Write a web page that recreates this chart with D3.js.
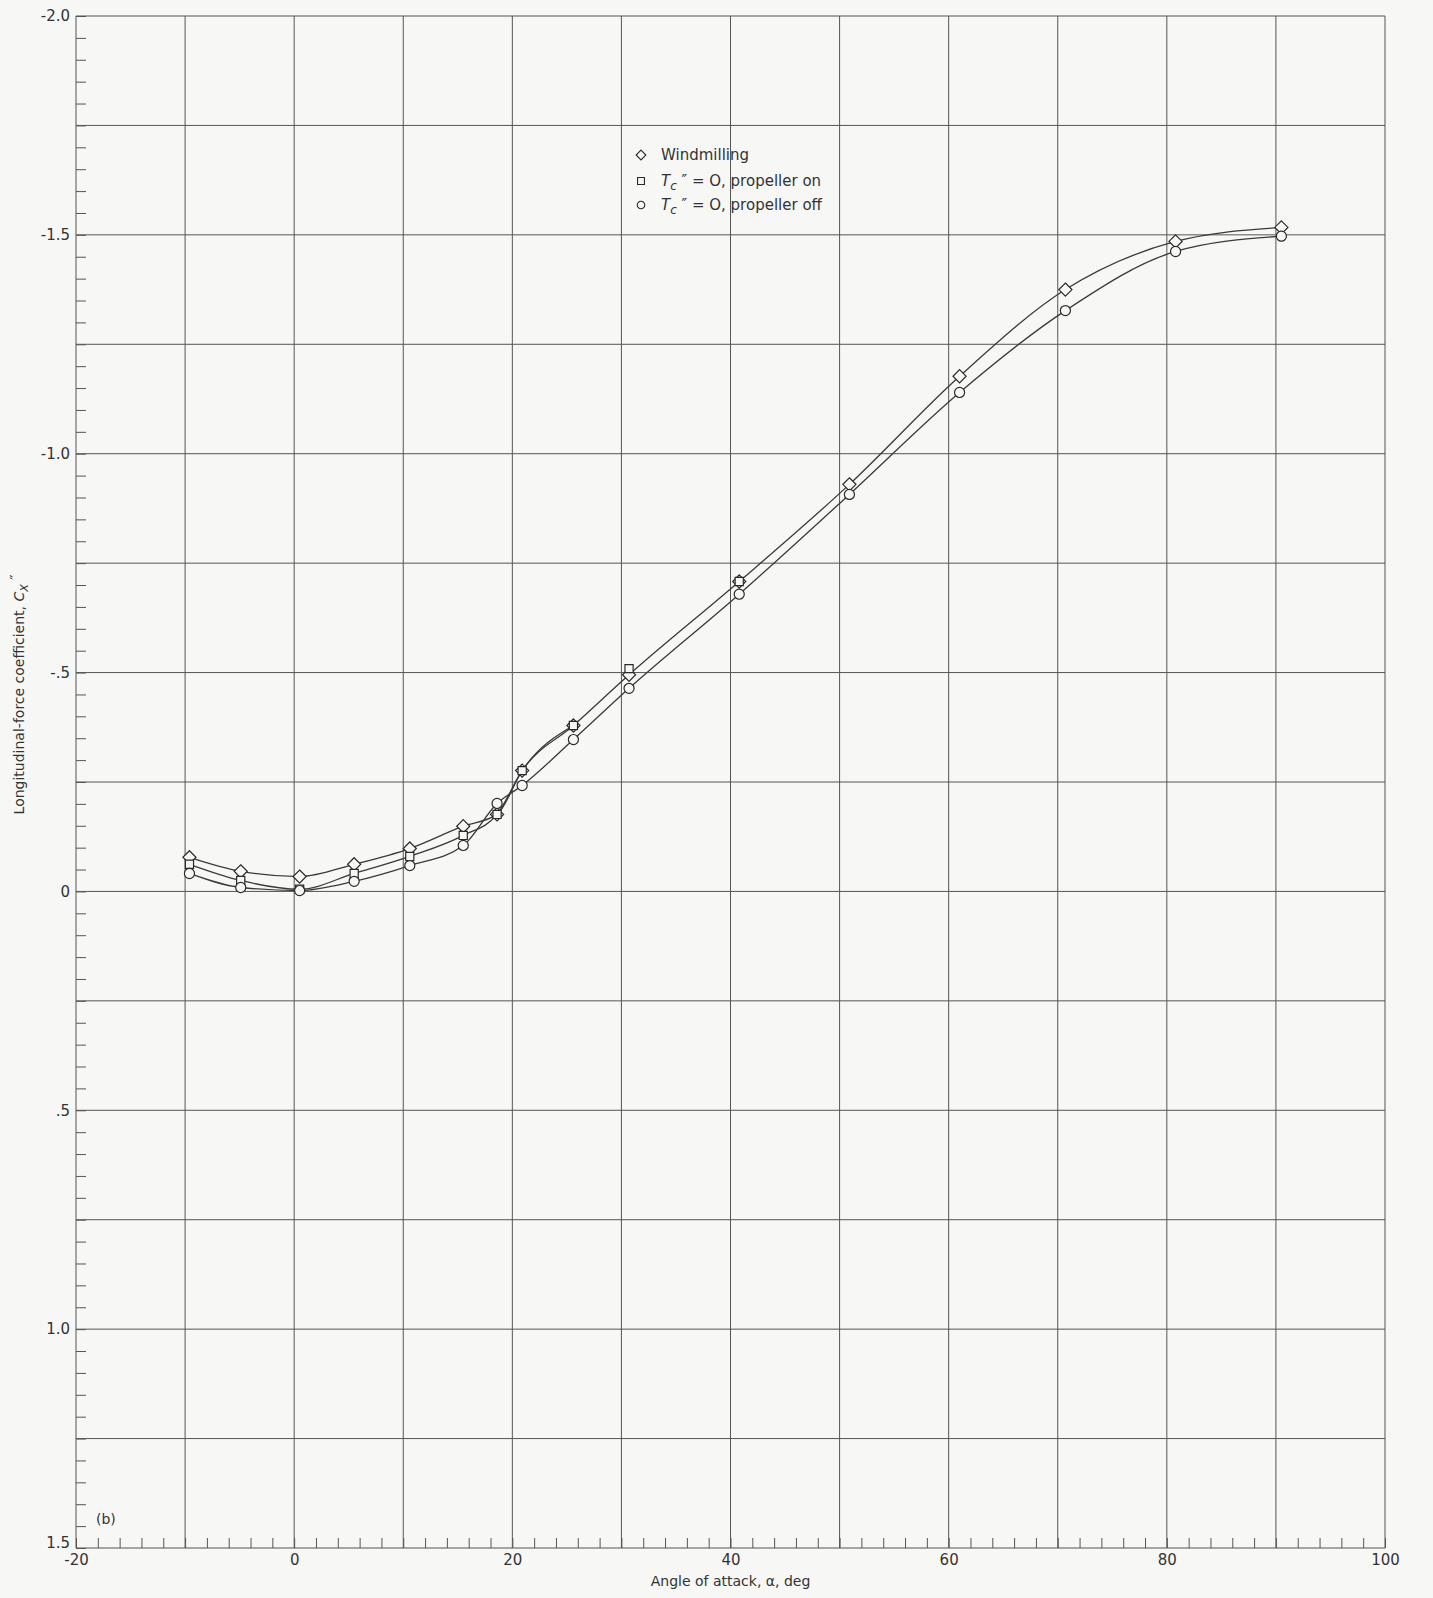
<!DOCTYPE html>
<html>
<head>
<meta charset="utf-8">
<script src="https://cdn.jsdelivr.net/npm/d3@7"></script>
<style>
  body { margin: 0; background: #f7f7f6; }
  svg { display: block; }
  text { font-family: "DejaVu Sans", sans-serif; fill: #333; }
  .axis path { display: none; }
  .axis line { stroke: #555; stroke-width: 1; }
</style>
</head>
<body>
<svg id="chart"></svg>
<script>
// angle of attack readings (deg) - points sit a little right of grid lines
var alphaAll = [-9.6, -4.9, 0.5, 5.5, 10.6, 15.5, 18.6, 20.9, 25.6, 30.7, 40.8, 50.9, 61.0, 70.7, 80.8, 90.5];
var alphaPropOn = [-9.6, -4.9, 0.5, 5.5, 10.6, 15.5, 18.6, 20.9, 25.6, 30.7, 40.8];

// C_X'' values
var windmilling = [-0.078, -0.046, -0.034, -0.062, -0.098, -0.149, -0.176, -0.276, -0.379, -0.495, -0.708, -0.930, -1.177, -1.375, -1.485, -1.517];
var propOn = [-0.062, -0.025, -0.005, -0.041, -0.080, -0.128, -0.176, -0.276, -0.379, -0.509, -0.708];
var propOff = [-0.041, -0.009, -0.002, -0.023, -0.059, -0.105, -0.201, -0.242, -0.347, -0.464, -0.679, -0.907, -1.140, -1.327, -1.462, -1.497];

var xLabels = [-20, 0, 20, 40, 60, 80, 100];
var yLabels = [-2.0, -1.5, -1.0, -0.5, 0, 0.5, 1.0, 1.5];
var yLabelText = ["-2.0", "-1.5", "-1.0", "-.5", "0", ".5", "1.0", "1.5"];

var W = 1433, H = 1598;
var margin = {top: 16, right: 48, bottom: 50, left: 76};

var svg = d3.select("#chart").attr("width", W).attr("height", H);

var x = d3.scaleLinear().domain([-20, 100]).range([margin.left, W - margin.right]);
var y = d3.scaleLinear().domain([-2.0, 1.5]).range([margin.top, H - margin.bottom]);

// grid
var g = svg.append("g");
g.selectAll(".vgrid")
  .data(d3.range(-20, 101, 10))
  .enter().append("line")
    .attr("x1", function(d) { return x(d); })
    .attr("x2", function(d) { return x(d); })
    .attr("y1", y(-2.0)).attr("y2", y(1.5))
    .attr("stroke", "#555").attr("stroke-width", 1);
g.selectAll(".hgrid")
  .data(d3.range(0, 15).map(function(i) { return -2.0 + i * 0.25; }))
  .enter().append("line")
    .attr("y1", function(d) { return y(d); })
    .attr("y2", function(d) { return y(d); })
    .attr("x1", x(-20)).attr("x2", x(100))
    .attr("stroke", "#555").attr("stroke-width", 1);

// minor ticks, drawn inward
svg.append("g")
  .attr("class", "axis")
  .attr("transform", "translate(0," + y(1.5) + ")")
  .call(d3.axisBottom(x).tickValues(d3.range(-20, 101, 2)).tickSize(-10).tickFormat(""));
svg.append("g")
  .attr("class", "axis")
  .attr("transform", "translate(" + x(-20) + ",0)")
  .call(d3.axisLeft(y).tickValues(d3.range(0, 71).map(function(i) { return -2.0 + i * 0.05; })).tickSize(-10).tickFormat(""));

// tick labels
var xAx = svg.append("g")
  .attr("class", "axis")
  .attr("transform", "translate(0," + y(1.5) + ")")
  .call(d3.axisBottom(x).tickValues(xLabels).tickSize(0).tickPadding(6).tickFormat(function(d) { return d; }));
xAx.selectAll("text").style("font-size", "15px").attr("fill", "#333");

var yAx = svg.append("g")
  .attr("class", "axis")
  .attr("transform", "translate(" + x(-20) + ",0)")
  .call(d3.axisLeft(y).tickValues(yLabels).tickSize(0).tickPadding(6)
    .tickFormat(function(d, i) { return yLabelText[i]; }));
yAx.selectAll("text").style("font-size", "15px").attr("fill", "#333");
yAx.selectAll(".tick").filter(function(d) { return d === 1.5; }).select("text").attr("dy", "-0.05em");

// axis titles
svg.append("text")
  .attr("x", (x(-20) + x(100)) / 2)
  .attr("y", H - 12)
  .attr("text-anchor", "middle")
  .style("font-size", "14px")
  .text("Angle of attack, \u03b1, deg");

var yt = svg.append("text")
  .attr("transform", "translate(24," + y(-0.45) + ") rotate(-90)")
  .attr("text-anchor", "middle")
  .style("font-size", "14px");
yt.append("tspan").text("Longitudinal-force coefficient, ");
yt.append("tspan").style("font-style", "italic").text("C");
yt.append("tspan").style("font-style", "italic").style("font-size", "11px").attr("dy", 4).text("X");
yt.append("tspan").attr("dy", -8).text(" \u2033");

svg.append("text")
  .attr("x", 96).attr("y", y(1.5) - 24)
  .style("font-size", "14px")
  .text("(b)");

// curves
var line = d3.line()
  .x(function(d) { return x(d[0]); })
  .y(function(d) { return y(d[1]); })
  .curve(d3.curveMonotoneX);

var series = [
  {name: "windmilling", a: alphaAll, v: windmilling, shape: "diamond", lineTo: alphaAll.length},
  // propeller-on curve merges into the windmilling one past ~25 deg
  {name: "propOn", a: alphaPropOn, v: propOn, shape: "square", lineTo: 9},
  {name: "propOff", a: alphaAll, v: propOff, shape: "circle", lineTo: alphaAll.length}
];

series.forEach(function(s) {
  var pts = s.a.map(function(a, i) { return [a, s.v[i]]; }).slice(0, s.lineTo);
  svg.append("path")
    .datum(pts)
    .attr("d", line)
    .attr("fill", "none")
    .attr("stroke", "#3a3a3a")
    .attr("stroke-width", 1.3);
});

var symType = {
  diamond: d3.symbolDiamond2,
  square: d3.symbolSquare2,
  circle: d3.symbolCircle
};
var symSize = {diamond: 110, square: 85, circle: 80};

series.forEach(function(s) {
  var pts = s.a.map(function(a, i) { return [a, s.v[i]]; });
  svg.append("g").selectAll("path")
    .data(pts)
    .enter().append("path")
      .attr("transform", function(d) { return "translate(" + x(d[0]) + "," + y(d[1]) + ")"; })
      .attr("d", d3.symbol().type(symType[s.shape]).size(symSize[s.shape]))
      .attr("fill", "#f7f7f6")
      .attr("stroke", "#2a2a2a")
      .attr("stroke-width", 1.2);
});

// legend
var legendRows = [
  {shape: "diamond", label: null},
  {shape: "square", label: "propeller on"},
  {shape: "circle", label: "propeller off"}
];
var lg = svg.append("g").attr("transform", "translate(641,155)");
legendRows.forEach(function(r, i) {
  var yy = [0, 26, 50][i];
  lg.append("path")
    .attr("transform", "translate(0," + yy + ")")
    .attr("d", d3.symbol().type(symType[r.shape]).size(r.shape === "circle" ? 45 : 60))
    .attr("fill", "#f7f7f6").attr("stroke", "#2a2a2a").attr("stroke-width", 1.1);
  var t = lg.append("text").attr("x", 20).attr("y", yy + 5).style("font-size", "15px");
  if (r.label === null) {
    t.text("Windmilling");
  } else {
    t.append("tspan").style("font-style", "italic").text("T");
    t.append("tspan").style("font-style", "italic").style("font-size", "12px").attr("dy", 4).text("c");
    t.append("tspan").attr("dy", -4).text(" \u2033 = O, " + r.label);
  }
});
</script>
</body>
</html>
